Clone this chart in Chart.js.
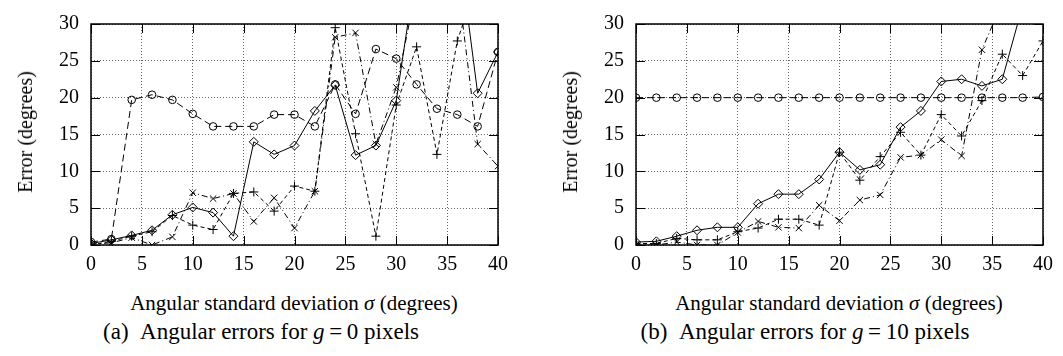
<!DOCTYPE html>
<html>
<head>
<meta charset="utf-8">
<script src="https://cdn.jsdelivr.net/npm/chart.js@4.4.0/dist/chart.umd.min.js"></script>
<style>
  html, body { margin: 0; padding: 0; background: #fff; }
  body {
    width: 1063px; height: 356px; position: relative; overflow: hidden;
    font-family: 'Liberation Serif', 'Times New Roman', serif; color: #000;
  }
  canvas { position: absolute; top: 0; }
  .ytitle, .xtitle, .caption {
    position: absolute; white-space: nowrap; line-height: 1;
  }
  .ytitle { font-size: 20px; transform: translate(-50%, -50%) rotate(-90deg); }
  .xtitle { font-size: 21px; transform: translate(-50%, -50%); }
  .caption { font-size: 23px; transform: translate(-50%, -50%); }
</style>
</head>
<body>
<canvas id="chartA" width="530" height="290" style="left:0px"></canvas>
<canvas id="chartB" width="530" height="290" style="left:545px"></canvas>

<div class="ytitle" style="left:25px; top:132px">Error (degrees)</div>
<div class="ytitle" style="left:570px; top:132px">Error (degrees)</div>
<div class="xtitle" style="left:294px; top:303px">Angular standard deviation <i>σ</i> (degrees)</div>
<div class="xtitle" style="left:839px; top:303px">Angular standard deviation <i>σ</i> (degrees)</div>
<div class="caption" style="left:261px; top:331px">(a)&ensp;Angular errors for <i>g</i>&thinsp;=&thinsp;0 pixels</div>
<div class="caption" style="left:805px; top:331px">(b)&ensp;Angular errors for <i>g</i>&thinsp;=&thinsp;10 pixels</div>

<script>
/* ── data: error (degrees) vs angular std deviation σ ── */
const sigma = [0, 2, 4, 6, 8, 10, 12, 14, 16, 18, 20, 22, 24, 26, 28, 30, 32, 34, 36, 38, 40];
const xTicks = [0, 5, 10, 15, 20, 25, 30, 35, 40];
const yTicks = [0, 5, 10, 15, 20, 25, 30];

// (a) g = 0 pixels
const g0Diamond = [0.2, 0.7, 1.3, 2.0, 4.1, 5.1, 4.4, 1.2, 14.0, 12.3, 13.5, 18.2, 21.7, 12.2, 13.5, 19.6, 38.0, 45.0, 42.0, 20.6, 26.2];
const g0Circle  = [0.4, 0.8, 19.7, 20.4, 19.7, 17.8, 16.1, 16.1, 16.1, 17.7, 17.7, 16.1, 21.8, 17.8, 26.6, 25.3, 21.8, 18.5, 17.7, 16.1, 26.2];
const g0Plus    = [0.0, 0.5, 1.2, 1.8, 4.0, 2.7, 2.1, 7.0, 7.2, 4.6, 8.0, 7.3, 29.5, 15.1, 1.2, 19.0, 26.9, 12.3, 27.7, 36.0, 34.0];
const g0Cross   = [0.1, 0.3, 1.0, 0.0, 1.1, 7.1, 6.3, 7.0, 3.2, 6.4, 2.3, 7.3, 28.2, 28.8, 13.7, 21.4, 35.0, 38.0, 36.0, 13.7, 10.7];

// (b) g = 10 pixels
const g10Diamond = [0.4, 0.5, 1.2, 2.0, 2.4, 2.4, 5.6, 6.9, 6.9, 8.9, 12.6, 10.2, 10.9, 16.0, 18.2, 22.2, 22.5, 21.6, 22.5, 32.5, 40.0];
const g10Circle  = [20.0, 20.0, 20.0, 20.0, 20.0, 20.0, 20.0, 20.0, 20.0, 20.0, 20.0, 20.0, 20.0, 20.0, 20.0, 20.0, 20.0, 20.0, 20.0, 20.0, 20.1];
const g10Plus    = [0.2, 0.2, 0.9, 0.7, 0.7, 1.8, 2.3, 3.5, 3.5, 2.7, 12.6, 8.8, 12.0, 15.3, 12.2, 17.7, 14.8, 19.6, 25.9, 23.0, 27.7];
const g10Cross   = [0.0, 0.0, 0.4, 0.0, 0.0, 1.7, 3.2, 2.4, 2.3, 5.4, 3.3, 6.1, 6.8, 11.9, 12.2, 14.3, 12.1, 26.5, 33.0, 36.0, 38.0];

const FONT = "'Liberation Serif', 'Times New Roman', serif";
const TICK_LEN = 9;

// gnuplot-ish border + inward tick marks
const framePlugin = {
    id: 'frame',
    afterDraw(chart) {
        const { ctx, chartArea: a, scales } = chart;
        ctx.save();
        ctx.strokeStyle = '#000';
        ctx.lineWidth = 1;
        ctx.beginPath();
        scales.x.ticks.forEach((t) => {
            const px = Math.round(scales.x.getPixelForValue(t.value)) + 0.5;
            ctx.moveTo(px, a.bottom); ctx.lineTo(px, a.bottom - TICK_LEN);
            ctx.moveTo(px, a.top); ctx.lineTo(px, a.top + TICK_LEN);
        });
        scales.y.ticks.forEach((t) => {
            const py = Math.round(scales.y.getPixelForValue(t.value)) + 0.5;
            ctx.moveTo(a.left, py); ctx.lineTo(a.left + TICK_LEN, py);
            ctx.moveTo(a.right, py); ctx.lineTo(a.right - TICK_LEN, py);
        });
        ctx.stroke();
        ctx.lineWidth = 1.5;
        ctx.strokeRect(a.left, a.top, a.right - a.left, a.bottom - a.top);
        ctx.restore();
    },
};

function series(values, pointStyle, dash, radius) {
    return {
        data: sigma.map((s, i) => ({ x: s, y: values[i] })),
        borderColor: '#000',
        borderWidth: 1,
        borderDash: dash,
        pointStyle,
        pointRadius: radius,
        pointBorderColor: '#000',
        pointBorderWidth: 1,
        pointBackgroundColor: 'rgba(0,0,0,0)',
        tension: 0,
        fill: false,
    };
}

function makePanel(id, diamond, circle, plus, cross) {
    return new Chart(document.getElementById(id), {
        type: 'line',
        data: {
            datasets: [
                series(diamond, 'rectRot', [], 4.5),
                series(circle, 'circle', [7, 4], 3.8),
                series(plus, 'cross', [4, 3], 4.5),
                series(cross, 'crossRot', [6, 3, 1, 3], 4.5),
            ],
        },
        options: {
            responsive: false,
            animation: false,
            devicePixelRatio: 1,
            layout: { padding: { top: 15, right: 32, bottom: 0, left: 0 } },
            plugins: { legend: { display: false }, tooltip: { enabled: false } },
            scales: {
                x: {
                    type: 'linear', min: 0, max: 40,
                    afterBuildTicks: (s) => { s.ticks = xTicks.map((v) => ({ value: v })); },
                    afterFit: (s) => { s.height = 45; },
                    grid: { color: 'rgba(0,0,0,0.6)', lineWidth: 1, drawTicks: false },
                    border: { display: false, dash: [1, 2] },
                    ticks: { font: { family: FONT, size: 20 }, color: '#000', padding: 8, maxRotation: 0 },
                },
                y: {
                    type: 'linear', min: 0, max: 30,
                    afterBuildTicks: (s) => { s.ticks = yTicks.map((v) => ({ value: v })); },
                    afterFit: (s) => { s.width = 91; },
                    grid: { color: 'rgba(0,0,0,0.6)', lineWidth: 1, drawTicks: false },
                    border: { display: false, dash: [1, 2] },
                    ticks: { font: { family: FONT, size: 20 }, color: '#000', padding: 12 },
                },
            },
        },
        plugins: [framePlugin],
    });
}

makePanel('chartA', g0Diamond, g0Circle, g0Plus, g0Cross);
makePanel('chartB', g10Diamond, g10Circle, g10Plus, g10Cross);
</script>
</body>
</html>
